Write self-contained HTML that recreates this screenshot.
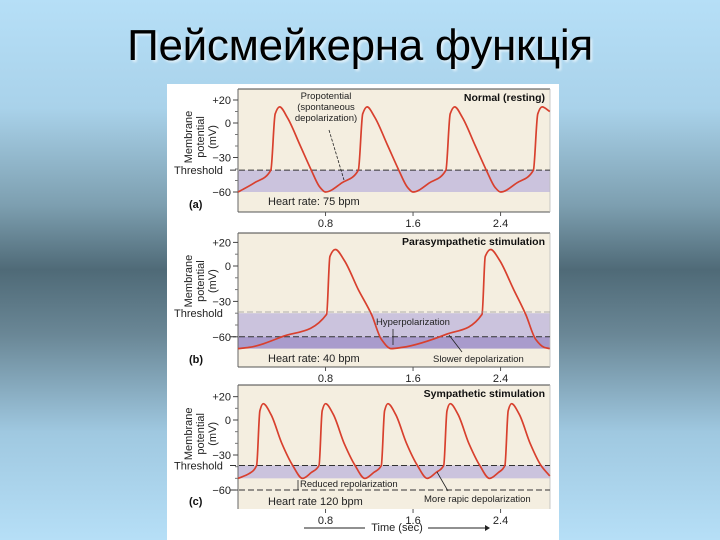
<!DOCTYPE html>
<html><head><meta charset="utf-8"><style>
html,body{margin:0;padding:0}
body{width:720px;height:540px;overflow:hidden;position:relative;font-family:"Liberation Sans",sans-serif;
background:linear-gradient(to bottom,#b6dff7 0%,#a9d2ea 20%,#7d9fb0 38%,#4f6a77 50%,#6a8796 62%,#9fc8e0 80%,#b6dff7 100%);}
#title{position:absolute;left:0;top:21px;width:720px;text-align:center;font-size:44px;color:#000;text-shadow:2px 2px 2px rgba(255,255,255,0.6);letter-spacing:-0.3px}
svg{position:absolute;left:0;top:0}
</style></head><body>
<div id="title">Пейсмейкерна функція</div>
<svg id="chart" width="720" height="540" font-family="Liberation Sans, sans-serif"></svg>
<script>
const tA=[0,0.15,0.30,0.34,0.38,0.45,0.57,0.67,0.75,0.80,0.95,1.10,1.14,1.18,1.25,1.37,1.47,1.55,1.60,1.75,1.90,1.94,1.98,2.05,2.17,2.27,2.35,2.40,2.55,2.70,2.74,2.78,2.85];
const vA=[-60,-52,-41,8,14,5,-20,-41,-56,-60,-52,-41,8,14,5,-20,-41,-56,-60,-52,-41,8,14,5,-20,-41,-56,-60,-52,-41,8,14,10];
const tB=[0,0.1,0.4,0.81,0.84,0.89,0.97,1.10,1.22,1.31,1.40,1.50,1.9,2.23,2.26,2.31,2.39,2.52,2.63,2.72,2.80,2.85];
const vB=[-70,-69,-60,-41,8,14,5,-20,-41,-62,-70,-69,-58,-41,8,14,5,-20,-41,-62,-69,-70];
const tC=[0,0.1,0.17,0.20,0.23,0.30,0.40,0.50,0.59,0.67,0.74,0.77,0.80,0.87,0.97,1.07,1.16,1.24,1.31,1.34,1.37,1.44,1.54,1.64,1.73,1.81,1.88,1.91,1.94,2.01,2.11,2.21,2.30,2.38,2.44,2.47,2.50,2.57,2.67,2.77,2.85];
const vC=[-50,-46,-39,8,14,5,-20,-39,-50,-45,-39,8,14,5,-20,-39,-50,-45,-39,8,14,5,-20,-39,-50,-45,-39,8,14,5,-20,-39,-50,-45,-39,8,14,5,-20,-39,-48];
const xTicks=[0.8,1.6,2.4];
const yTicks=[20,0,-30,-60];
const yTickLabels=["+20","0","\u221230","\u221260"];

const S=document.getElementById('chart');
const NS='http://www.w3.org/2000/svg';
function mk(tag,at,txt){const e=document.createElementNS(NS,tag);for(const k in at)e.setAttribute(k,at[k]);if(txt!==undefined)e.textContent=txt;S.appendChild(e);return e;}
const X0=238,X1=550,KX=109.4;
const xs=t=>X0+t*KX;

let bg=mk('rect',{x:167,y:84,width:392,height:456,fill:'#ffffff'});



// monotone cubic (Fritsch-Carlson) to avoid overshoot
function smooth(pts){const n=pts.length,dx=[],m=[],s=[];
 for(let i=0;i<n-1;i++){dx[i]=pts[i+1][0]-pts[i][0];s[i]=(pts[i+1][1]-pts[i][1])/dx[i];}
 m[0]=s[0];m[n-1]=s[n-2];
 for(let i=1;i<n-1;i++){if(s[i-1]*s[i]<=0)m[i]=0;else{const w1=2*dx[i]+dx[i-1],w2=dx[i]+2*dx[i-1];m[i]=(w1+w2)/(w1/s[i-1]+w2/s[i]);}}
 let d='M'+pts[0][0].toFixed(1)+','+pts[0][1].toFixed(1);
 for(let i=0;i<n-1;i++){const h=dx[i]/3;
  d+='C'+(pts[i][0]+h).toFixed(1)+','+(pts[i][1]+m[i]*h).toFixed(1)+' '+(pts[i+1][0]-h).toFixed(1)+','+(pts[i+1][1]-m[i+1]*h).toFixed(1)+' '+pts[i+1][0].toFixed(1)+','+pts[i+1][1].toFixed(1);}
 return d;}

function panel(p){
 const ys=v=>p.zero-v*p.k;
 let r=mk('rect',{x:X0,y:p.top,width:X1-X0,height:p.bot-p.top,fill:'#f4eee0'});
 
 
 p.bands.forEach(b=>{let e=mk('rect',{x:X0,y:ys(b[0]),width:X1-X0,height:ys(b[1])-ys(b[0]),fill:b[2]});
  
  });
 mk('line',{x1:X0,y1:p.top,x2:X1,y2:p.top,stroke:'#444','stroke-width':1});
 mk('line',{x1:X0,y1:p.top,x2:X0,y2:p.bot,stroke:'#666','stroke-width':1});
 if(p.bottomLine)mk('line',{x1:X0,y1:p.bot,x2:X1,y2:p.bot,stroke:'#555','stroke-width':1});
 mk('line',{x1:X1,y1:p.top,x2:X1,y2:p.bot,stroke:'#bbb','stroke-width':0.8});
 yTicks.forEach((v,i)=>{mk('line',{x1:X0-5,y1:ys(v),x2:X0,y2:ys(v),stroke:'#444'});
  let t=mk('text',{x:X0-7,y:ys(v)+4,'font-size':11,'text-anchor':'end',fill:'#222'},yTickLabels[i]);
  
  });
 [10,-10,-20,-40,-50].forEach(v=>mk('line',{x1:X0-3,y1:ys(v),x2:X0,y2:ys(v),stroke:'#777'}));
 xTicks.forEach(t=>{mk('line',{x1:xs(t),y1:p.bot,x2:xs(t),y2:p.bot+4,stroke:'#555'});
  let e=mk('text',{x:xs(t),y:p.bot+15,'font-size':11,'text-anchor':'middle',fill:'#222'},String(t));
  
  });
 p.dashes.forEach(v=>{let e=mk('line',{x1:X0-8,y1:ys(v),x2:X1,y2:ys(v),stroke:'#333','stroke-width':1,'stroke-dasharray':'6,3'});
  
  });
 let th=mk('text',{x:174,y:ys(p.thr)+4,'font-size':11,fill:'#222'},'Threshold');
 
 
 let yl=mk('text',{transform:`translate(192,${(p.top+ys(-40))/2+8}) rotate(-90)`,'font-size':11,'text-anchor':'middle',fill:'#222'});
 
 
 ['Membrane','potential','(mV)'].forEach((s,i)=>{const ts=document.createElementNS(NS,'tspan');ts.setAttribute('x',0);ts.setAttribute('y',i*12);ts.textContent=s;yl.appendChild(ts);});
 let pl=mk('text',{x:189,y:p.bot-4,'font-size':11,'font-weight':'bold',fill:'#111'},'('+p.id+')');
 
 
 let tt=mk('text',{x:X1-5,y:p.top+12,'font-size':10.5,'font-weight':'bold','text-anchor':'end',fill:'#111'},p.title);
 
 
 let hr=mk('text',{x:268,y:p.hrY,'font-size':11,fill:'#222'},p.hr);
 
 
 const pts=p.t.map((t,i)=>[xs(t),ys(p.v[i])]);
 let c=mk('path',{d:smooth(pts),fill:'none',stroke:'#d8402e','stroke-width':1.7});
 
 
 return ys;
}
panel({id:'a',top:89,bot:212,zero:123,k:1.15,thr:-41,t:tA,v:vA,bands:[[-41,-60,'#cbc3dd']],dashes:[-41],bottomLine:true,title:'Normal (resting)',hr:'Heart rate: 75 bpm',hrY:205});
panel({id:'b',top:233,bot:367,zero:266,k:1.18,thr:-40,t:tB,v:vB,bands:[[-40,-60,'#cbc3dd'],[-60,-70,'#a99bcc']],dashes:[-60],bottomLine:true,title:'Parasympathetic stimulation',hr:'Heart rate: 40 bpm',hrY:362});
mk('line',{x1:X0,y1:312,x2:X1,y2:312,stroke:'#999','stroke-width':0.8,'stroke-dasharray':'6,3'});
panel({id:'c',top:385,bot:509,zero:420,k:1.167,thr:-39,t:tC,v:vC,bands:[[-39,-50,'#cbc3dd']],dashes:[-39,-60],bottomLine:false,title:'Sympathetic stimulation',hr:'Heart rate  120 bpm',hrY:505});

function note(x,y,s,anchor){let e=mk('text',{x:x,y:y,'font-size':9.5,'text-anchor':anchor||'start',fill:'#222'},s);
 
 }
note(326,99,'Propotential','middle');note(326,110,'(spontaneous','middle');note(326,121,'depolarization)','middle');
mk('line',{x1:329,y1:130,x2:344,y2:180,stroke:'#222','stroke-width':0.8,'stroke-dasharray':'3,1.5'});
note(376,325,'Hyperpolarization');
mk('line',{x1:393,y1:329,x2:393,y2:345,stroke:'#222','stroke-width':0.8});
note(433,362,'Slower depolarization');
mk('line',{x1:449,y1:335,x2:462,y2:352,stroke:'#222','stroke-width':0.8});
note(300,487,'Reduced repolarization');
mk('line',{x1:298,y1:480,x2:298,y2:490,stroke:'#222','stroke-width':0.8});
note(424,502,'More rapic depolarization');
mk('line',{x1:437,y1:472,x2:448,y2:491,stroke:'#222','stroke-width':0.8});
let xt=mk('text',{x:397,y:531,'font-size':11,'text-anchor':'middle',fill:'#222'},'Time (sec)');


mk('line',{x1:304,y1:528,x2:365,y2:528,stroke:'#222'});
mk('line',{x1:428,y1:528,x2:485,y2:528,stroke:'#222'});
mk('path',{d:'M485,525 L490,528 L485,531Z',fill:'#222'});
</script>
</body></html>
